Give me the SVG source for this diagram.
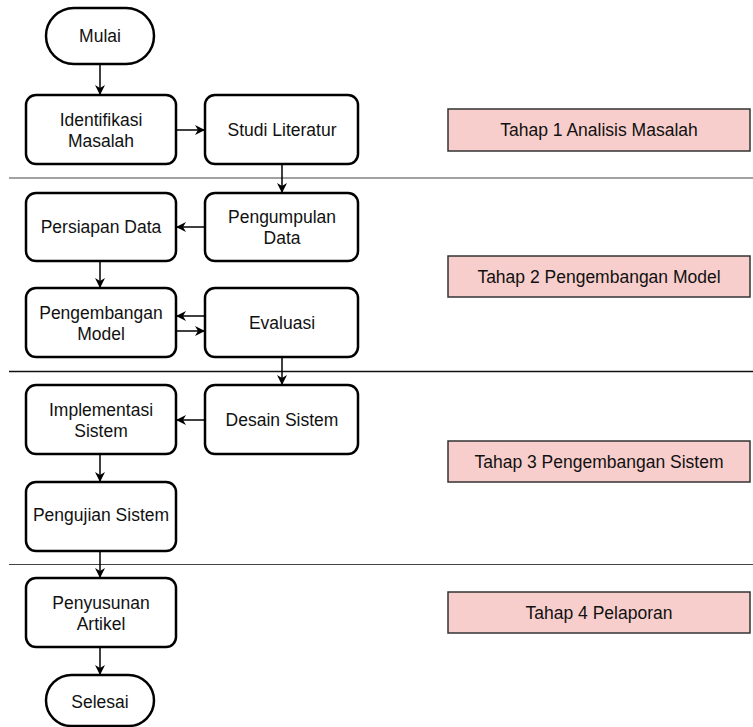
<svg xmlns="http://www.w3.org/2000/svg" width="753" height="727" viewBox="0 0 753 727">
<defs>
<style>
.n{fill:#fff;stroke:#000;stroke-width:2.5}
.t{fill:#f8cecc;stroke:#333;stroke-width:1.5}
text{font-family:"Liberation Sans",Arial,sans-serif;font-size:17.5px;fill:#111;text-anchor:middle;dominant-baseline:central}
.c{fill:none;stroke:#000;stroke-width:1.5}
.sep{stroke:#444;stroke-width:1.2}
</style>
<marker id="a" viewBox="0 0 10 10" refX="10" refY="5" markerWidth="10" markerHeight="10" markerUnits="userSpaceOnUse" orient="auto">
<path d="M0,0 L10,5 L0,10 L3,5 Z" fill="#000"/>
</marker>
</defs>
<g id="separators">
<line class="sep" x1="9" y1="178" x2="753" y2="178"/>
<line class="sep" x1="9" y1="371.5" x2="753" y2="371.5" style="stroke:#111;stroke-width:1.6"/>
<line class="sep" x1="9" y1="564.5" x2="753" y2="564.5"/>
</g>
<g id="connectors">
<line class="c" x1="100" y1="64" x2="100" y2="95" marker-end="url(#a)"/>
<line class="c" x1="176" y1="130" x2="205" y2="130" marker-end="url(#a)"/>
<line class="c" x1="282" y1="164" x2="282" y2="193" marker-end="url(#a)"/>
<line class="c" x1="205" y1="227" x2="176" y2="227" marker-end="url(#a)"/>
<line class="c" x1="100" y1="261" x2="100" y2="288" marker-end="url(#a)"/>
<line class="c" x1="205" y1="316" x2="176" y2="316" marker-end="url(#a)"/>
<line class="c" x1="176" y1="331" x2="205" y2="331" marker-end="url(#a)"/>
<line class="c" x1="282" y1="357" x2="282" y2="385" marker-end="url(#a)"/>
<line class="c" x1="205" y1="420" x2="176" y2="420" marker-end="url(#a)"/>
<line class="c" x1="100" y1="454" x2="100" y2="482" marker-end="url(#a)"/>
<line class="c" x1="100" y1="551" x2="100" y2="578" marker-end="url(#a)"/>
<line class="c" x1="100" y1="647" x2="100" y2="675" marker-end="url(#a)"/>
</g>
<g id="mulai"><rect class="n" x="46" y="8" width="108" height="56" rx="28"/><text x="100" y="36">Mulai</text></g>
<g id="identifikasi"><rect class="n" x="26" y="95" width="150" height="69" rx="10"/><text x="101" y="120">Identifikasi</text><text x="101" y="141">Masalah</text></g>
<g id="studi"><rect class="n" x="205" y="95" width="153" height="69" rx="10"/><text x="282" y="130">Studi Literatur</text></g>
<g id="persiapan"><rect class="n" x="26" y="193" width="150" height="68" rx="10"/><text x="101" y="227">Persiapan Data</text></g>
<g id="pengumpulan"><rect class="n" x="205" y="193" width="153" height="68" rx="10"/><text x="282" y="217">Pengumpulan</text><text x="282" y="238">Data</text></g>
<g id="pengembangan"><rect class="n" x="26" y="288" width="150" height="69" rx="10"/><text x="101" y="313">Pengembangan</text><text x="101" y="334">Model</text></g>
<g id="evaluasi"><rect class="n" x="205" y="288" width="153" height="69" rx="10"/><text x="282" y="323">Evaluasi</text></g>
<g id="implementasi"><rect class="n" x="26" y="385" width="150" height="69" rx="10"/><text x="101" y="410">Implementasi</text><text x="101" y="431">Sistem</text></g>
<g id="desain"><rect class="n" x="205" y="385" width="153" height="69" rx="10"/><text x="282" y="420">Desain Sistem</text></g>
<g id="pengujian"><rect class="n" x="26" y="482" width="150" height="69" rx="10"/><text x="101" y="515">Pengujian Sistem</text></g>
<g id="penyusunan"><rect class="n" x="26" y="578" width="150" height="69" rx="10"/><text x="101" y="603">Penyusunan</text><text x="101" y="624">Artikel</text></g>
<g id="selesai"><rect class="n" x="46" y="675" width="108" height="51" rx="25.5"/><text x="100" y="702">Selesai</text></g>
<g id="tahap1"><rect class="t" x="448" y="109" width="302" height="42"/><text x="599" y="130">Tahap 1 Analisis Masalah</text></g>
<g id="tahap2"><rect class="t" x="448" y="256" width="302" height="41"/><text x="599" y="276.5">Tahap 2 Pengembangan Model</text></g>
<g id="tahap3"><rect class="t" x="448" y="441" width="302" height="41"/><text x="599" y="461.5">Tahap 3 Pengembangan Sistem</text></g>
<g id="tahap4"><rect class="t" x="448" y="592" width="302" height="41"/><text x="599" y="612.5">Tahap 4 Pelaporan</text></g>
</svg>
